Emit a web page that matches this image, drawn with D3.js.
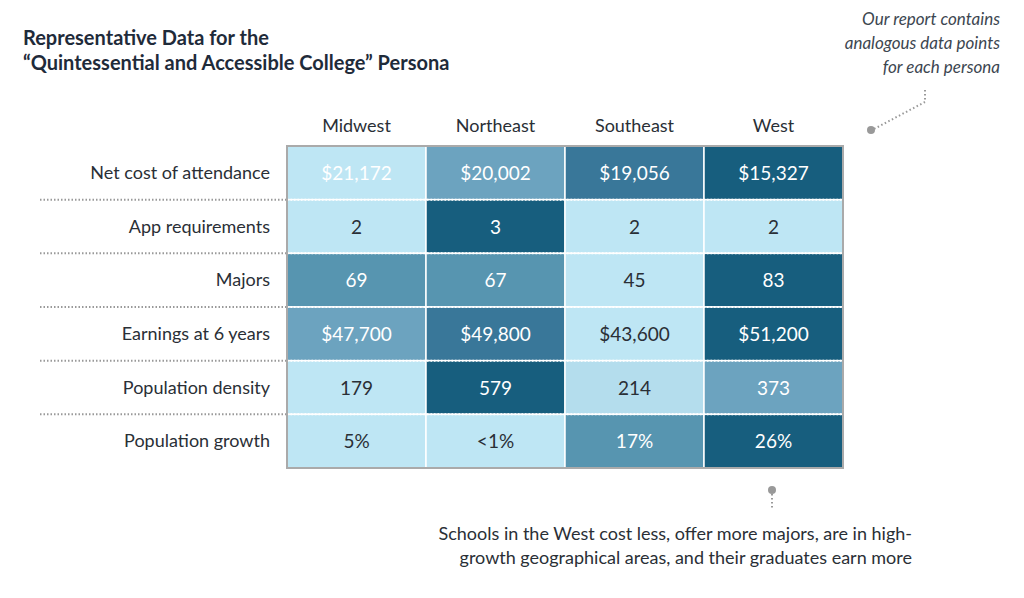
<!DOCTYPE html>
<html><head><meta charset="utf-8">
<script src="https://cdn.jsdelivr.net/npm/d3@7"></script>
<style>body{margin:0;background:#fff}</style>
</head><body><svg id="c" width="1024" height="598"></svg>
<script>
const regions = ["Midwest", "Northeast", "Southeast", "West"];
const metrics = ["Net cost of attendance", "App requirements", "Majors", "Earnings at 6 years", "Population density", "Population growth"];
const labels = [
  ["$21,172", "$20,002", "$19,056", "$15,327"],
  ["2", "3", "2", "2"],
  ["69", "67", "45", "83"],
  ["$47,700", "$49,800", "$43,600", "$51,200"],
  ["179", "579", "214", "373"],
  ["5%", "<1%", "17%", "26%"]
];
// shade level per cell, 0 = lightest, 5 = darkest
const shade = [
  [0, 2, 4, 5],
  [0, 5, 0, 0],
  [3, 3, 0, 5],
  [2, 4, 0, 5],
  [0, 5, 1, 2],
  [0, 0, 3, 5]
];
const palette = ["#bee6f4", "#b4dded", "#6ca3bf", "#5795b0", "#397799", "#175e7e"];

const svg = d3.select("#c").attr("font-family", "Lato, 'Open Sans', sans-serif");
const x = d3.scaleBand().domain(regions).range([287, 843]);
const y = d3.scaleBand().domain(metrics).range([146, 468]);

svg.append("text").attr("x", 23).attr("y", 45).attr("font-size", 20).attr("font-weight", "bold").attr("fill", "#1f2b3a")
  .selectAll("tspan").data(["Representative Data for the", "\u201cQuintessential and Accessible College\u201d Persona"])
  .join("tspan").attr("x", 23).attr("dy", (d, i) => i ? 25 : 0).text(d => d);

svg.append("text").attr("font-size", 17).attr("font-style", "italic").attr("fill", "#3c4650").attr("text-anchor", "end")
  .selectAll("tspan").data(["Our report contains", "analogous data points", "for each persona"])
  .join("tspan").attr("x", 1000).attr("y", (d, i) => 25 + i * 24).text(d => d);
svg.append("path").attr("d", "M925,90 L925,102 L872,130").attr("fill", "none").attr("stroke", "#999").attr("stroke-width", 2).attr("stroke-dasharray", "1.5,2.5");
svg.append("circle").attr("cx", 871).attr("cy", 130).attr("r", 4).attr("fill", "#999");

svg.append("g").selectAll("text").data(regions).join("text")
  .attr("x", d => x(d) + x.bandwidth() / 2).attr("y", 132).attr("text-anchor", "middle")
  .attr("font-size", 18).attr("fill", "#2a2f36").text(d => d);

svg.append("g").selectAll("text").data(metrics).join("text")
  .attr("x", 270).attr("y", d => y(d) + y.bandwidth() / 2 + 6).attr("text-anchor", "end")
  .attr("font-size", 18).attr("fill", "#2a2f36").text(d => d);

const cells = [];
metrics.forEach((m, i) => regions.forEach((r, j) => cells.push({m, r, s: shade[i][j], t: labels[i][j], row: i})));
svg.append("g").selectAll("rect").data(cells).join("rect")
  .attr("x", d => x(d.r)).attr("y", d => y(d.m)).attr("width", x.bandwidth()).attr("height", y.bandwidth())
  .attr("fill", d => palette[d.s]).attr("stroke", "#fff").attr("stroke-width", 1.5);
svg.append("g").selectAll("text").data(cells).join("text")
  .attr("x", d => x(d.r) + x.bandwidth() / 2).attr("y", d => y(d.m) + y.bandwidth() / 2 + 7)
  .attr("text-anchor", "middle").attr("font-size", 19)
  .attr("fill", d => (d.s >= 2 || d.row === 0) ? "#fff" : "#2a2f36").text(d => d.t);

// row separators
const seps = metrics.slice(1).map(m => y(m));
svg.append("g").selectAll("line.l").data(seps).join("line")
  .attr("x1", 40).attr("x2", 287).attr("y1", d => d).attr("y2", d => d)
  .attr("stroke", "#999").attr("stroke-width", 2).attr("stroke-dasharray", "1.5,2");
svg.append("g").selectAll("line.r").data(seps).join("line")
  .attr("x1", 287).attr("x2", 843).attr("y1", d => d).attr("y2", d => d)
  .attr("stroke", "#fff").attr("stroke-width", 2).attr("stroke-dasharray", "1.5,2");
svg.append("rect").attr("x", 287).attr("y", 146).attr("width", 556).attr("height", 322)
  .attr("fill", "none").attr("stroke", "#aaa").attr("stroke-width", 2);

svg.append("circle").attr("cx", 772).attr("cy", 490).attr("r", 4).attr("fill", "#999");
svg.append("line").attr("x1", 772).attr("x2", 772).attr("y1", 490).attr("y2", 510)
  .attr("stroke", "#999").attr("stroke-width", 2).attr("stroke-dasharray", "1.5,2.5");
svg.append("text").attr("font-size", 18).attr("fill", "#2a2f36").attr("text-anchor", "end")
  .selectAll("tspan").data(["Schools in the West cost less, offer more majors, are in high-", "growth geographical areas, and their graduates earn more"])
  .join("tspan").attr("x", 912).attr("y", (d, i) => 540 + i * 24).text(d => d);
</script></body></html>
